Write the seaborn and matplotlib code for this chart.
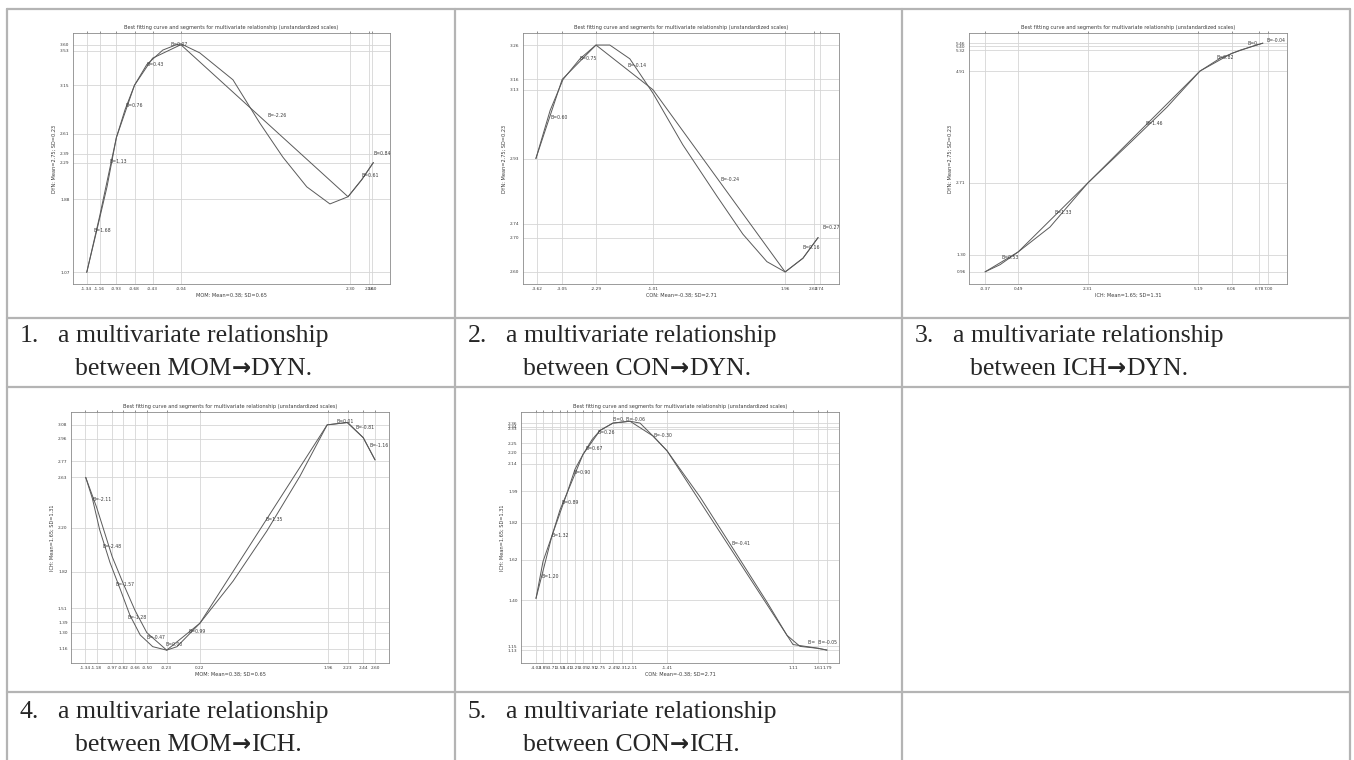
import matplotlib
matplotlib.use("Agg")
import matplotlib.pyplot as plt
from matplotlib.lines import Line2D
import seaborn as sns
import pandas as pd

sns.set_style("white")
plt.rcParams['font.family'] = ['DejaVu Sans']

W, H = 1354, 760
TITLE = "Best fitting curve and segments for multivariate relationship (unstandardized scales)"

# ---------------- Panel 1: MOM -> DYN ----------------
p1_curve_x = [-1.34, -1.20, -1.06, -0.93, -0.81, -0.68, -0.51, -0.29, -0.10, -0.04,
              0.22, 0.68, 1.05, 1.37, 1.70, 2.02, 2.27, 2.46, 2.62]
p1_curve_y = [1.07, 1.54, 2.02, 2.57, 2.88, 3.15, 3.38, 3.54, 3.60, 3.61,
              3.51, 3.21, 2.73, 2.35, 2.02, 1.83, 1.91, 2.10, 2.29]
p1_seg_x = [-1.34, -1.16, -0.93, -0.68, -0.43, -0.04, 2.27, 2.46, 2.62]
p1_seg_y = [1.07, 1.70, 2.57, 3.15, 3.45, 3.60, 1.91, 2.10, 2.29]
p1_xticks = [-1.34, -1.16, -0.93, -0.68, -0.43, -0.04, 2.30, 2.56, 2.60]
p1_yticks = [1.07, 1.88, 2.29, 2.39, 2.61, 3.15, 3.53, 3.60]
p1_blabels = ["B=1.68", "B=1.13", "B=0.76", "B=0.43", "B=0.07", "B=-2.26", "B=0.61", "B=0.84"]
p1_bx = [-1.24, -1.02, -0.80, -0.52, -0.18, 1.16, 2.45, 2.62]
p1_by = [1.54, 2.30, 2.92, 3.38, 3.60, 2.81, 2.15, 2.39]
p1_xlim = (-1.53, 2.85)
p1_ylim = (0.94, 3.73)
p1_xlabel = "MOM: Mean=0.38; SD=0.65"
p1_ylabel = "DYN: Mean=2.75; SD=0.23"

# ---------------- Panel 2: CON -> DYN ----------------
p2_curve_x = [-3.64, -3.32, -3.03, -2.65, -2.29, -1.98, -1.53, -1.01, -0.34, 0.43,
              1.01, 1.55, 1.96, 2.36, 2.70]
p2_curve_y = [2.93, 3.07, 3.16, 3.22, 3.26, 3.26, 3.22, 3.12, 2.97, 2.82,
              2.71, 2.63, 2.60, 2.64, 2.70]
p2_seg_x = [-3.64, -3.05, -2.29, -1.01, 1.96, 2.36, 2.70]
p2_seg_y = [2.93, 3.16, 3.26, 3.13, 2.60, 2.64, 2.70]
p2_xticks = [-3.62, -3.05, -2.29, -1.01, 1.96, 2.60, 2.74]
p2_yticks = [2.60, 2.70, 2.74, 2.93, 3.13, 3.16, 3.26]
p2_blabels = ["B=0.60", "B=0.75", "B=-0.14", "B=-0.24", "B=0.16", "B=0.27"]
p2_bx = [-3.32, -2.65, -1.59, 0.50, 2.36, 2.81]
p2_by = [3.05, 3.22, 3.20, 2.87, 2.67, 2.73]
p2_xlim = (-3.93, 3.17)
p2_ylim = (2.565, 3.295)
p2_xlabel = "CON: Mean=-0.38; SD=2.71"
p2_ylabel = "DYN: Mean=2.75; SD=0.23"

# ---------------- Panel 3: ICH -> DYN ----------------
p3_curve_x = [-0.37, 0.02, 0.49, 1.32, 2.31, 3.48, 4.37, 5.23, 5.75, 6.27, 6.61, 6.87]
p3_curve_y = [0.96, 1.10, 1.35, 1.84, 2.71, 3.55, 4.20, 4.91, 5.16, 5.32, 5.40, 5.46]
p3_seg_x = [-0.37, 0.49, 2.31, 5.23, 6.06, 6.61, 6.87]
p3_seg_y = [0.96, 1.35, 2.71, 4.91, 5.26, 5.40, 5.46]
p3_xticks = [-0.37, 0.49, 2.31, 5.19, 6.06, 6.78, 7.00]
p3_yticks = [0.96, 1.30, 2.71, 4.91, 5.32, 5.40, 5.46]
p3_blabels = ["B=0.53", "B=1.33", "B=1.46", "B=0.82", "B=0.", "B=-0.04"]
p3_bx = [0.07, 1.43, 3.80, 5.67, 6.48, 6.97]
p3_by = [1.24, 2.12, 3.87, 5.18, 5.46, 5.52]
p3_xlim = (-0.79, 7.50)
p3_ylim = (0.72, 5.66)
p3_xlabel = "ICH: Mean=1.65; SD=1.31"
p3_ylabel = "DYN: Mean=2.75; SD=0.23"

# ---------------- Panel 4: MOM -> ICH ----------------
p4_curve_x = [-1.33, -1.24, -1.14, -1.00, -0.86, -0.73, -0.59, -0.42, -0.23, -0.09,
              0.22, 0.67, 1.13, 1.58, 1.95, 2.22, 2.44, 2.60]
p4_curve_y = [2.63, 2.45, 2.18, 1.90, 1.67, 1.45, 1.28, 1.18, 1.15, 1.18,
              1.38, 1.74, 2.17, 2.64, 3.08, 3.10, 2.97, 2.78]
p4_seg_x = [-1.33, -1.18, -0.97, -0.82, -0.66, -0.50, -0.23, 0.22, 1.95, 2.23, 2.44, 2.60]
p4_seg_y = [2.63, 2.37, 1.95, 1.72, 1.49, 1.30, 1.15, 1.38, 3.08, 3.10, 2.97, 2.78]
p4_xticks = [-1.34, -1.18, -0.97, -0.82, -0.66, -0.50, -0.23, 0.22, 1.96, 2.23, 2.44, 2.60]
p4_yticks = [1.16, 1.30, 1.39, 1.51, 1.82, 2.20, 2.63, 2.77, 2.96, 3.08]
p4_blabels = ["B=-2.11", "B=-2.48", "B=-1.57", "B=-1.28", "B=-0.47", "B=0.00",
              "B=0.99", "B=1.35", "B=0.01", "B=-0.81", "B=-1.16"]
p4_bx = [-1.24, -1.10, -0.93, -0.76, -0.50, -0.25, 0.06, 1.11, 2.08, 2.33, 2.52]
p4_by = [2.44, 2.04, 1.71, 1.43, 1.26, 1.20, 1.31, 2.27, 3.11, 3.06, 2.90]
p4_xlim = (-1.53, 2.79)
p4_ylim = (1.04, 3.19)
p4_xlabel = "MOM: Mean=0.38; SD=0.65"
p4_ylabel = "ICH: Mean=1.65; SD=1.31"

# ---------------- Panel 5: CON -> ICH ----------------
p5_curve_x = [-4.03, -3.89, -3.71, -3.55, -3.41, -3.25, -3.09, -2.91, -2.75, -2.49, -2.15,
              -1.95, -1.69, -1.41, -0.75, -0.09, 0.59, 0.99, 1.25, 1.59, 1.79]
p5_curve_y = [1.41, 1.61, 1.75, 1.89, 1.98, 2.11, 2.19, 2.27, 2.32, 2.36, 2.37,
              2.36, 2.29, 2.21, 1.96, 1.68, 1.39, 1.21, 1.15, 1.14, 1.13]
p5_seg_x = [-4.03, -3.71, -3.41, -3.09, -2.75, -2.49, -2.15, -1.69, -1.41, 1.11, 1.61, 1.79]
p5_seg_y = [1.41, 1.75, 1.98, 2.19, 2.32, 2.36, 2.37, 2.29, 2.21, 1.16, 1.14, 1.13]
p5_xticks = [-4.03, -3.89, -3.71, -3.55, -3.41, -3.25, -3.09, -2.91, -2.75, -2.49,
             -2.31, -2.11, -1.41, 1.11, 1.61, 1.79]
p5_yticks = [1.13, 1.15, 1.40, 1.62, 1.82, 1.99, 2.14, 2.20, 2.25, 2.33, 2.34, 2.36]
p5_blabels = ["B=1.20", "B=1.32", "B=0.89", "B=0.90", "B=0.67", "B=0.26",
              "B=0, B=-0.06", "B=-0.30", "B=-0.41", "B=  B=-0.05"]
p5_bx = [-3.93, -3.73, -3.53, -3.29, -3.05, -2.81, -2.49, -1.67, -0.13, 1.41]
p5_by = [1.53, 1.75, 1.93, 2.09, 2.22, 2.31, 2.38, 2.29, 1.71, 1.17]
p5_xlim = (-4.33, 2.03)
p5_ylim = (1.06, 2.42)
p5_xlabel = "CON: Mean=-0.38; SD=2.71"
p5_ylabel = "ICH: Mean=1.65; SD=1.31"

# captions
cap_numbers = ["1.", "2.", "3.", "4.", "5."]
cap_line1 = "a multivariate relationship"
cap_from = ["MOM", "CON", "ICH", "MOM", "CON"]
cap_to = ["DYN.", "DYN.", "DYN.", "ICH.", "ICH."]

# ---------------------------------------------------------------
fig = plt.figure(figsize=(W / 100, H / 100), dpi=100)
fig.patch.set_facecolor("white")

BORDER = "#b4b4b4"
def hline(y, x0, x1):
    fig.add_artist(Line2D([x0 / W, x1 / W], [1 - y / H, 1 - y / H],
                          transform=fig.transFigure, color=BORDER, lw=1.6))
def vline(x, y0, y1):
    fig.add_artist(Line2D([x / W, x / W], [1 - y0 / H, 1 - y1 / H],
                          transform=fig.transFigure, color=BORDER, lw=1.6))

col_x = [7, 455, 902, 1350]
row_y = [9, 318, 387, 692]
for y in row_y:
    hline(y, col_x[0], col_x[-1])
for x in col_x:
    vline(x, row_y[0], H)

LINE = "#5a5a5a"
GRID = "#d6d6d6"
TXT = "#3a3a3a"

def panel(box, cx, cy, sx, sy, xt, yt, bl, bx, by, xlim, ylim, xlabel, ylabel):
    l, t, r, b = box
    ax = fig.add_axes([l / W, 1 - b / H, (r - l) / W, (b - t) / H])
    curve = pd.DataFrame({"x": cx, "y": cy})
    seg = pd.DataFrame({"x": sx, "y": sy})
    sns.lineplot(data=curve, x="x", y="y", ax=ax, color=LINE, lw=0.7,
                 sort=False, estimator=None)
    sns.lineplot(data=seg, x="x", y="y", ax=ax, color=LINE, lw=0.7,
                 sort=False, estimator=None)
    ax.set_xlim(*xlim)
    ax.set_ylim(*ylim)
    ax.set_xticks(xt)
    ax.set_yticks(yt)
    ax.set_xticklabels([f"{v:.2f}" for v in xt])
    ax.set_yticklabels([f"{v:.2f}" for v in yt])
    ax.grid(True, color=GRID, lw=0.6)
    ax.tick_params(axis="both", labelsize=3.1, colors=TXT, length=1.5, width=0.4, pad=1,
                   top=True, direction="out")
    ax.tick_params(axis="x", labeltop=False)
    for s in ax.spines.values():
        s.set_color("#8a8a8a")
        s.set_linewidth(0.6)
    for text, x, y in zip(bl, bx, by):
        ax.text(x, y, text, fontsize=3.3, color=TXT, ha="left", va="center")
    ax.set_xlabel(xlabel, fontsize=3.6, color=TXT, labelpad=1)
    ax.set_ylabel(ylabel, fontsize=3.6, color=TXT, labelpad=2)
    ax.set_title(TITLE, fontsize=3.6, color=TXT, pad=3)
    return ax

panel((73, 33, 390, 284), p1_curve_x, p1_curve_y, p1_seg_x, p1_seg_y, p1_xticks, p1_yticks,
      p1_blabels, p1_bx, p1_by, p1_xlim, p1_ylim, p1_xlabel, p1_ylabel)
panel((523, 33, 839, 284), p2_curve_x, p2_curve_y, p2_seg_x, p2_seg_y, p2_xticks, p2_yticks,
      p2_blabels, p2_bx, p2_by, p2_xlim, p2_ylim, p2_xlabel, p2_ylabel)
panel((969, 33, 1287, 284), p3_curve_x, p3_curve_y, p3_seg_x, p3_seg_y, p3_xticks, p3_yticks,
      p3_blabels, p3_bx, p3_by, p3_xlim, p3_ylim, p3_xlabel, p3_ylabel)
panel((71, 412, 389, 663), p4_curve_x, p4_curve_y, p4_seg_x, p4_seg_y, p4_xticks, p4_yticks,
      p4_blabels, p4_bx, p4_by, p4_xlim, p4_ylim, p4_xlabel, p4_ylabel)
panel((521, 412, 839, 663), p5_curve_x, p5_curve_y, p5_seg_x, p5_seg_y, p5_xticks, p5_yticks,
      p5_blabels, p5_bx, p5_by, p5_xlim, p5_ylim, p5_xlabel, p5_ylabel)

# captions
SERIF = ["Liberation Serif", "DejaVu Serif"]
FS = 18.5
renderer = fig.canvas.get_renderer()
cap_pos = [(20, 336), (468, 336), (915, 336), (20, 712), (468, 712)]
for num, a, b, (x0, y0) in zip(cap_numbers, cap_from, cap_to, cap_pos):
    fig.text(x0 / W, 1 - y0 / H, num, fontsize=FS, family=SERIF, ha="left", va="center")
    fig.text((x0 + 38) / W, 1 - y0 / H, cap_line1, fontsize=FS, family=SERIF,
             ha="left", va="center")
    y2 = 1 - (y0 + 33) / H
    t1 = fig.text((x0 + 55) / W, y2, "between " + a, fontsize=FS, family=SERIF,
                  ha="left", va="center")
    bb = t1.get_window_extent(renderer)
    t2 = fig.text(bb.x1 / W, y2, "\u2192", fontsize=FS - 2, family=["DejaVu Sans"],
                  fontweight="bold", ha="left", va="center")
    bb2 = t2.get_window_extent(renderer)
    fig.text(bb2.x1 / W, y2, b, fontsize=FS, family=SERIF, ha="left", va="center")

fig.savefig("out.png", dpi=100, facecolor="white")
